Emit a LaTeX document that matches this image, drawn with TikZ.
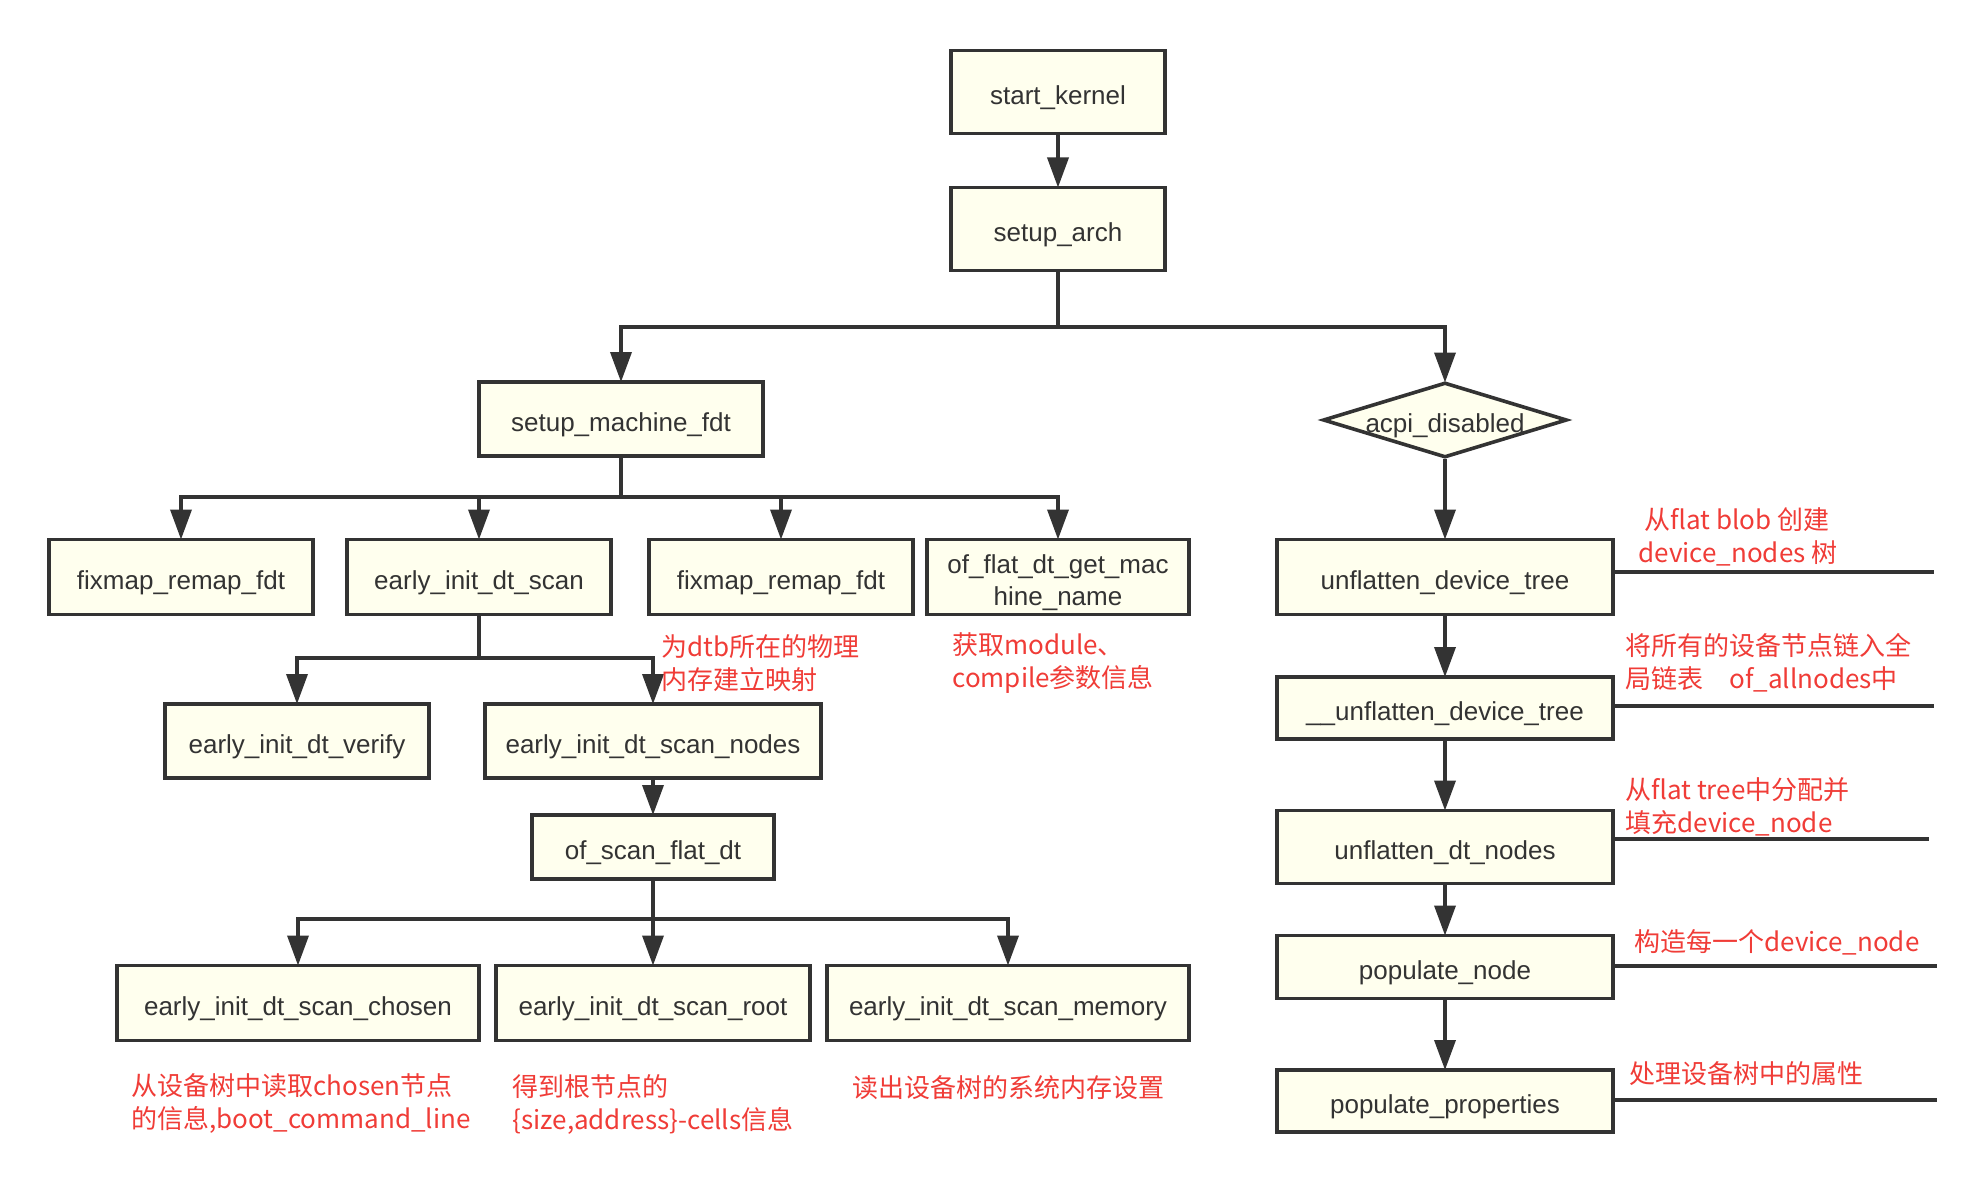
\documentclass[tikz,border=0pt]{standalone}
\usepackage{fontspec}
\setmainfont{Liberation Sans}
\newfontfamily\cjk{Noto Sans CJK SC}
\usetikzlibrary{arrows.meta,shapes.geometric}
\definecolor{boxfill}{RGB}{255,255,238}
\definecolor{ink}{RGB}{51,51,51}
\definecolor{notered}{RGB}{240,60,55}
\begin{document}
\begin{tikzpicture}[x=0.5pt,y=-0.5pt,
  box/.style={draw=ink, line width=1.8pt, fill=boxfill, text=ink, font=\fontsize{13pt}{16pt}\selectfont, inner sep=0pt, align=center, text height=12.5pt, text depth=0pt},
  arr/.style={draw=ink, line width=1.8pt, -{Triangle[length=15pt,width=10.5pt]}, shorten >=-0.9pt},
  conn/.style={draw=ink, line width=1.8pt},
  notetext/.style={text=notered, font=\cjk\fontsize{13pt}{16.5pt}\selectfont, align=left, inner sep=0pt, anchor=west}]
\fill[white] (0,0) rectangle (1988,1193);
\useasboundingbox (0,0) rectangle (1988,1193);

% main column
\node[box, minimum width=107pt, minimum height=41.5pt] (start) at (1058,92) {start\_kernel};
\node[box, minimum width=107pt, minimum height=41.5pt] (arch) at (1058,229) {setup\_arch};
\node[box, minimum width=142pt, minimum height=37pt] (smf) at (621,419) {setup\_machine\_fdt};
\node[box, diamond, minimum width=122pt, minimum height=37.5pt] (acpi) at (1445,420) {\makebox[0pt]{acpi\_disabled}};

% row 2
\node[box, minimum width=132pt, minimum height=37.5pt] (fixa) at (181,577) {fixmap\_remap\_fdt};
\node[box, minimum width=132pt, minimum height=37.5pt] (eids) at (479,577) {early\_init\_dt\_scan};
\node[box, minimum width=132pt, minimum height=37.5pt] (fixb) at (781,577) {fixmap\_remap\_fdt};
\node[box, minimum width=131pt, minimum height=37.5pt, text height=28.5pt] (ofgm) at (1058,577) {of\_flat\_dt\_get\_mac\\hine\_name};

% row 3
\node[box, minimum width=132pt, minimum height=37pt] (verify) at (297,741) {early\_init\_dt\_verify};
\node[box, minimum width=168pt, minimum height=37pt] (scannodes) at (653,741) {early\_init\_dt\_scan\_nodes};
\node[box, minimum width=121pt, minimum height=32pt] (scanflat) at (653,847) {of\_scan\_flat\_dt};

% row 4
\node[box, minimum width=181pt, minimum height=37.5pt] (chosen) at (298,1003) {early\_init\_dt\_scan\_chosen};
\node[box, minimum width=157pt, minimum height=37.5pt] (root) at (653,1003) {early\_init\_dt\_scan\_root};
\node[box, minimum width=181pt, minimum height=37.5pt] (memory) at (1008,1003) {early\_init\_dt\_scan\_memory};

% right column
\node[box, minimum width=168pt, minimum height=37.5pt] (udt) at (1445,577) {unflatten\_device\_tree};
\node[box, minimum width=168pt, minimum height=31pt] (uudt) at (1445,708) {\_\_unflatten\_device\_tree};
\node[box, minimum width=168pt, minimum height=36.5pt] (udn) at (1445,847) {unflatten\_dt\_nodes};
\node[box, minimum width=168pt, minimum height=31.5pt] (popn) at (1445,967) {populate\_node};
\node[box, minimum width=168pt, minimum height=31pt] (popp) at (1445,1101) {populate\_properties};

% branch points
\coordinate (b1) at (1058,327);
\coordinate (b2) at (621,497);
\coordinate (b3) at (479,658);
\coordinate (b4) at (653,919);

% connectors
\draw[arr] (start) -- (arch);
\draw[conn] (arch.south) -- (b1);
\draw[arr] (b1) -| (smf.north);
\draw[arr] (b1) -| (acpi.north);

\draw[conn] (smf.south) -- (b2);
\draw[arr] (b2) -| (fixa.north);
\draw[arr] (b2) -| (eids.north);
\draw[arr] (b2) -| (fixb.north);
\draw[arr] (b2) -| (ofgm.north);

\draw[conn] (eids.south) -- (b3);
\draw[arr] (b3) -| (verify.north);
\draw[arr] (b3) -| (scannodes.north);

\draw[arr] (scannodes) -- (scanflat);
\draw[conn] (scanflat.south) -- (b4);
\draw[arr] (b4) -| (chosen.north);
\draw[arr] (b4) -- (root.north);
\draw[arr] (b4) -| (memory.north);

\draw[arr] (acpi.south) -- (udt.north);
\draw[arr] (udt) -- (uudt);
\draw[arr] (uudt) -- (udn);
\draw[arr] (udn) -- (popn);
\draw[arr] (popn) -- (popp);

% side lines
\coordinate (r1) at (1934,572);
\coordinate (r2) at (1934,706);
\coordinate (r3) at (1929,839);
\coordinate (r4) at (1937,966);
\coordinate (r5) at (1937,1100);
\draw[conn] (udt.east |- r1) -- (r1);
\draw[conn] (uudt.east |- r2) -- (r2);
\draw[conn] (udn.east |- r3) -- (r3);
\draw[conn] (popn.east |- r4) -- (r4);
\draw[conn] (popp.east |- r5) -- (r5);

% notes
\node[notetext] (n1) at (1638,537) {\hspace{3pt}从flat blob 创建\\device\_nodes 树};
\node[notetext] (n2) at (1625,663) {将所有的设备节点链入全\\局链表\hspace{13pt}of\_allnodes中};
\node[notetext] (n3) at (1625,807) {从flat tree中分配并\\填充device\_node};
\node[notetext] (n4) at (1634,942) {构造每一个device\_node};
\node[notetext] (n5) at (1629,1074) {处理设备树中的属性};
\node[notetext] (n6) at (661,663) {为dtb所在的物理\\内存建立映射};
\node[notetext] (n7) at (952,663) {获取module、\\compile参数信息};
\node[notetext] (n8) at (131,1104) {从设备树中读取chosen节点\\的信息,boot\_command\_line};
\node[notetext] (n9) at (512,1104) {得到根节点的\\\{size,address\}-cells信息};
\node[notetext] (n10) at (852,1088) {读出设备树的系统内存设置};
\end{tikzpicture}
\end{document}
